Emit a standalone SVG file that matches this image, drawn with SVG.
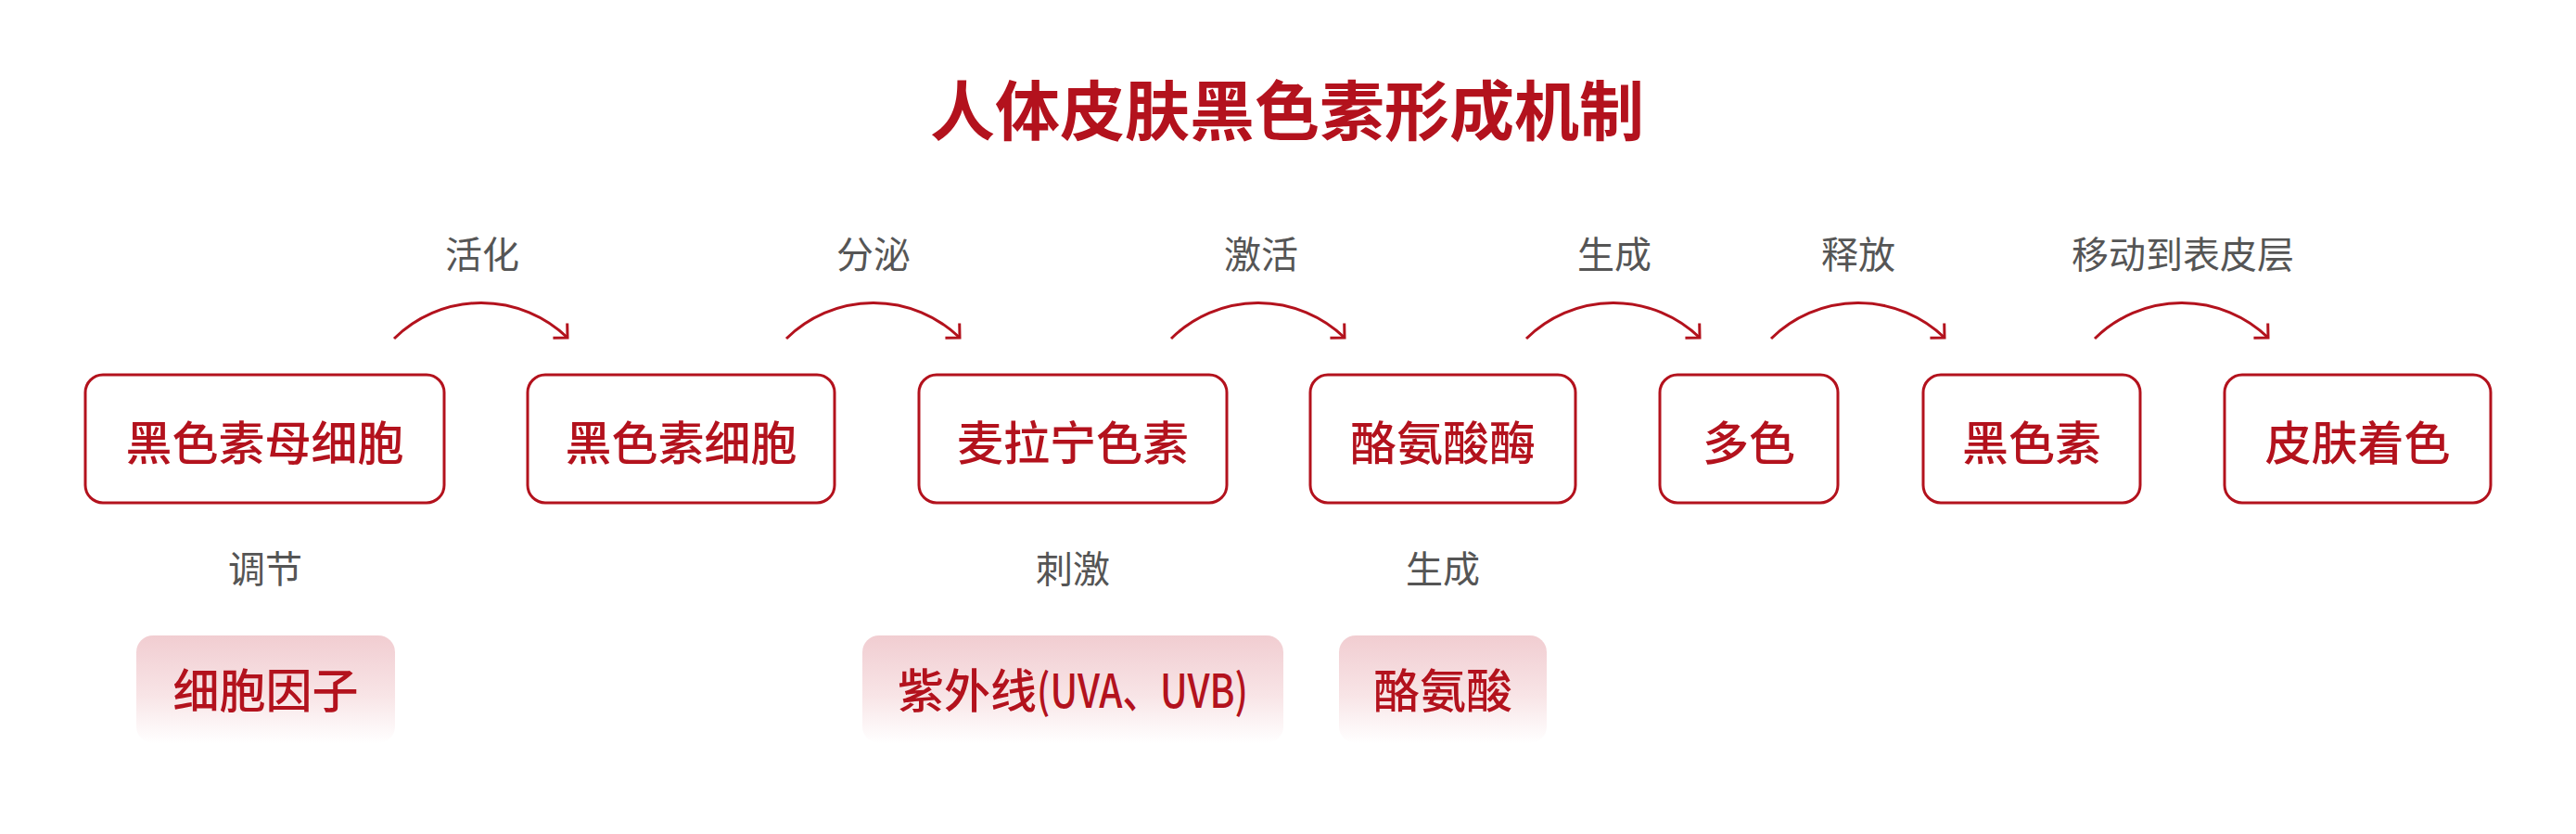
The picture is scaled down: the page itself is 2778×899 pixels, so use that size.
<svg xmlns="http://www.w3.org/2000/svg" width="2778" height="899" viewBox="0 0 2778 899">
  <style>
    .title { font-family: "Noto Sans CJK SC", "Liberation Sans", sans-serif; font-size: 70px; font-weight: 700; fill: #b3121d; text-anchor: middle; }
    .box { fill: #ffffff; stroke: #b3121d; stroke-width: 3; }
    .soft { fill: url(#softGrad); stroke: none; }
    .nt { font-family: "Noto Sans CJK SC", "Liberation Sans", sans-serif; font-size: 50px; font-weight: 500; fill: #b3121d; text-anchor: middle; }
    .lbl { font-family: "Noto Sans CJK SC", "Liberation Sans", sans-serif; font-size: 40px; font-weight: 400; fill: #555555; text-anchor: middle; }
    .arc { fill: none; stroke: #b3121d; stroke-width: 3; marker-end: url(#ah); }
  </style>
  <defs>
    <linearGradient id="softGrad" x1="0" y1="0" x2="0" y2="1">
      <stop offset="0" stop-color="#f1cdd1"/>
      <stop offset="0.55" stop-color="#f8e4e6"/>
      <stop offset="1" stop-color="#ffffff"/>
    </linearGradient>
    <marker id="ah" markerUnits="userSpaceOnUse" viewBox="-20 -20 40 40" markerWidth="40" markerHeight="40" refX="0" refY="0" orient="auto" overflow="visible">
      <path d="M-11,-11 L0,0 L-11,11" fill="none" stroke="#b3121d" stroke-width="3"/>
    </marker>
  </defs>
  <rect width="2778" height="899" fill="#ffffff"/>
  <text class="title" x="1388" y="146">人体皮肤黑色素形成机制</text>

  <g id="connectors">
    <path class="arc" d="M425,365 A134,134 0 0 1 612,364"/>
    <path class="arc" d="M848,365 A134,134 0 0 1 1035,364"/>
    <path class="arc" d="M1263,365 A134,134 0 0 1 1450,364"/>
    <path class="arc" d="M1646,365 A134,134 0 0 1 1833,364"/>
    <path class="arc" d="M1910,365 A134,134 0 0 1 2097,364"/>
    <path class="arc" d="M2259,365 A134,134 0 0 1 2446,364"/>
    <text class="lbl" x="520" y="289">活化</text>
    <text class="lbl" x="942" y="289">分泌</text>
    <text class="lbl" x="1360" y="289">激活</text>
    <text class="lbl" x="1741" y="289">生成</text>
    <text class="lbl" x="2004" y="289">释放</text>
    <text class="lbl" x="2354" y="289">移动到表皮层</text>
    <text class="lbl" x="286" y="628">调节</text>
    <text class="lbl" x="1157" y="628">刺激</text>
    <text class="lbl" x="1556" y="628">生成</text>
  </g>

  <g id="node-melanoblast">
    <rect class="box" x="92" y="404" width="387" height="138" rx="19"/>
    <text class="nt" x="285.5" y="496">黑色素母细胞</text>
  </g>
  <g id="node-melanocyte">
    <rect class="box" x="569" y="404" width="331" height="138" rx="19"/>
    <text class="nt" x="734.5" y="496">黑色素细胞</text>
  </g>
  <g id="node-melanin-granule">
    <rect class="box" x="991" y="404" width="332" height="138" rx="19"/>
    <text class="nt" x="1157" y="496">麦拉宁色素</text>
  </g>
  <g id="node-tyrosinase">
    <rect class="box" x="1413" y="404" width="286" height="138" rx="19"/>
    <text class="nt" x="1556" y="496">酪氨酸酶</text>
  </g>
  <g id="node-dopa">
    <rect class="box" x="1790" y="404" width="192" height="138" rx="19"/>
    <text class="nt" x="1886" y="496">多色</text>
  </g>
  <g id="node-melanin">
    <rect class="box" x="2074" y="404" width="234" height="138" rx="19"/>
    <text class="nt" x="2191" y="496">黑色素</text>
  </g>
  <g id="node-skin">
    <rect class="box" x="2399" y="404" width="287" height="138" rx="19"/>
    <text class="nt" x="2542.5" y="496">皮肤着色</text>
  </g>

  <g id="node-cytokine">
    <rect class="soft" x="147" y="685" width="279" height="116" rx="18"/>
    <text class="nt" x="286.5" y="763">细胞因子</text>
  </g>
  <g id="node-uv">
    <rect class="soft" x="930" y="685" width="454" height="116" rx="18"/>
    <text class="nt" x="968" y="763" style="text-anchor:start">紫外线<tspan textLength="228" lengthAdjust="spacingAndGlyphs">(UVA、UVB)</tspan></text>
  </g>
  <g id="node-tyrosine">
    <rect class="soft" x="1444" y="685" width="224" height="116" rx="18"/>
    <text class="nt" x="1556" y="763">酪氨酸</text>
  </g>
</svg>
